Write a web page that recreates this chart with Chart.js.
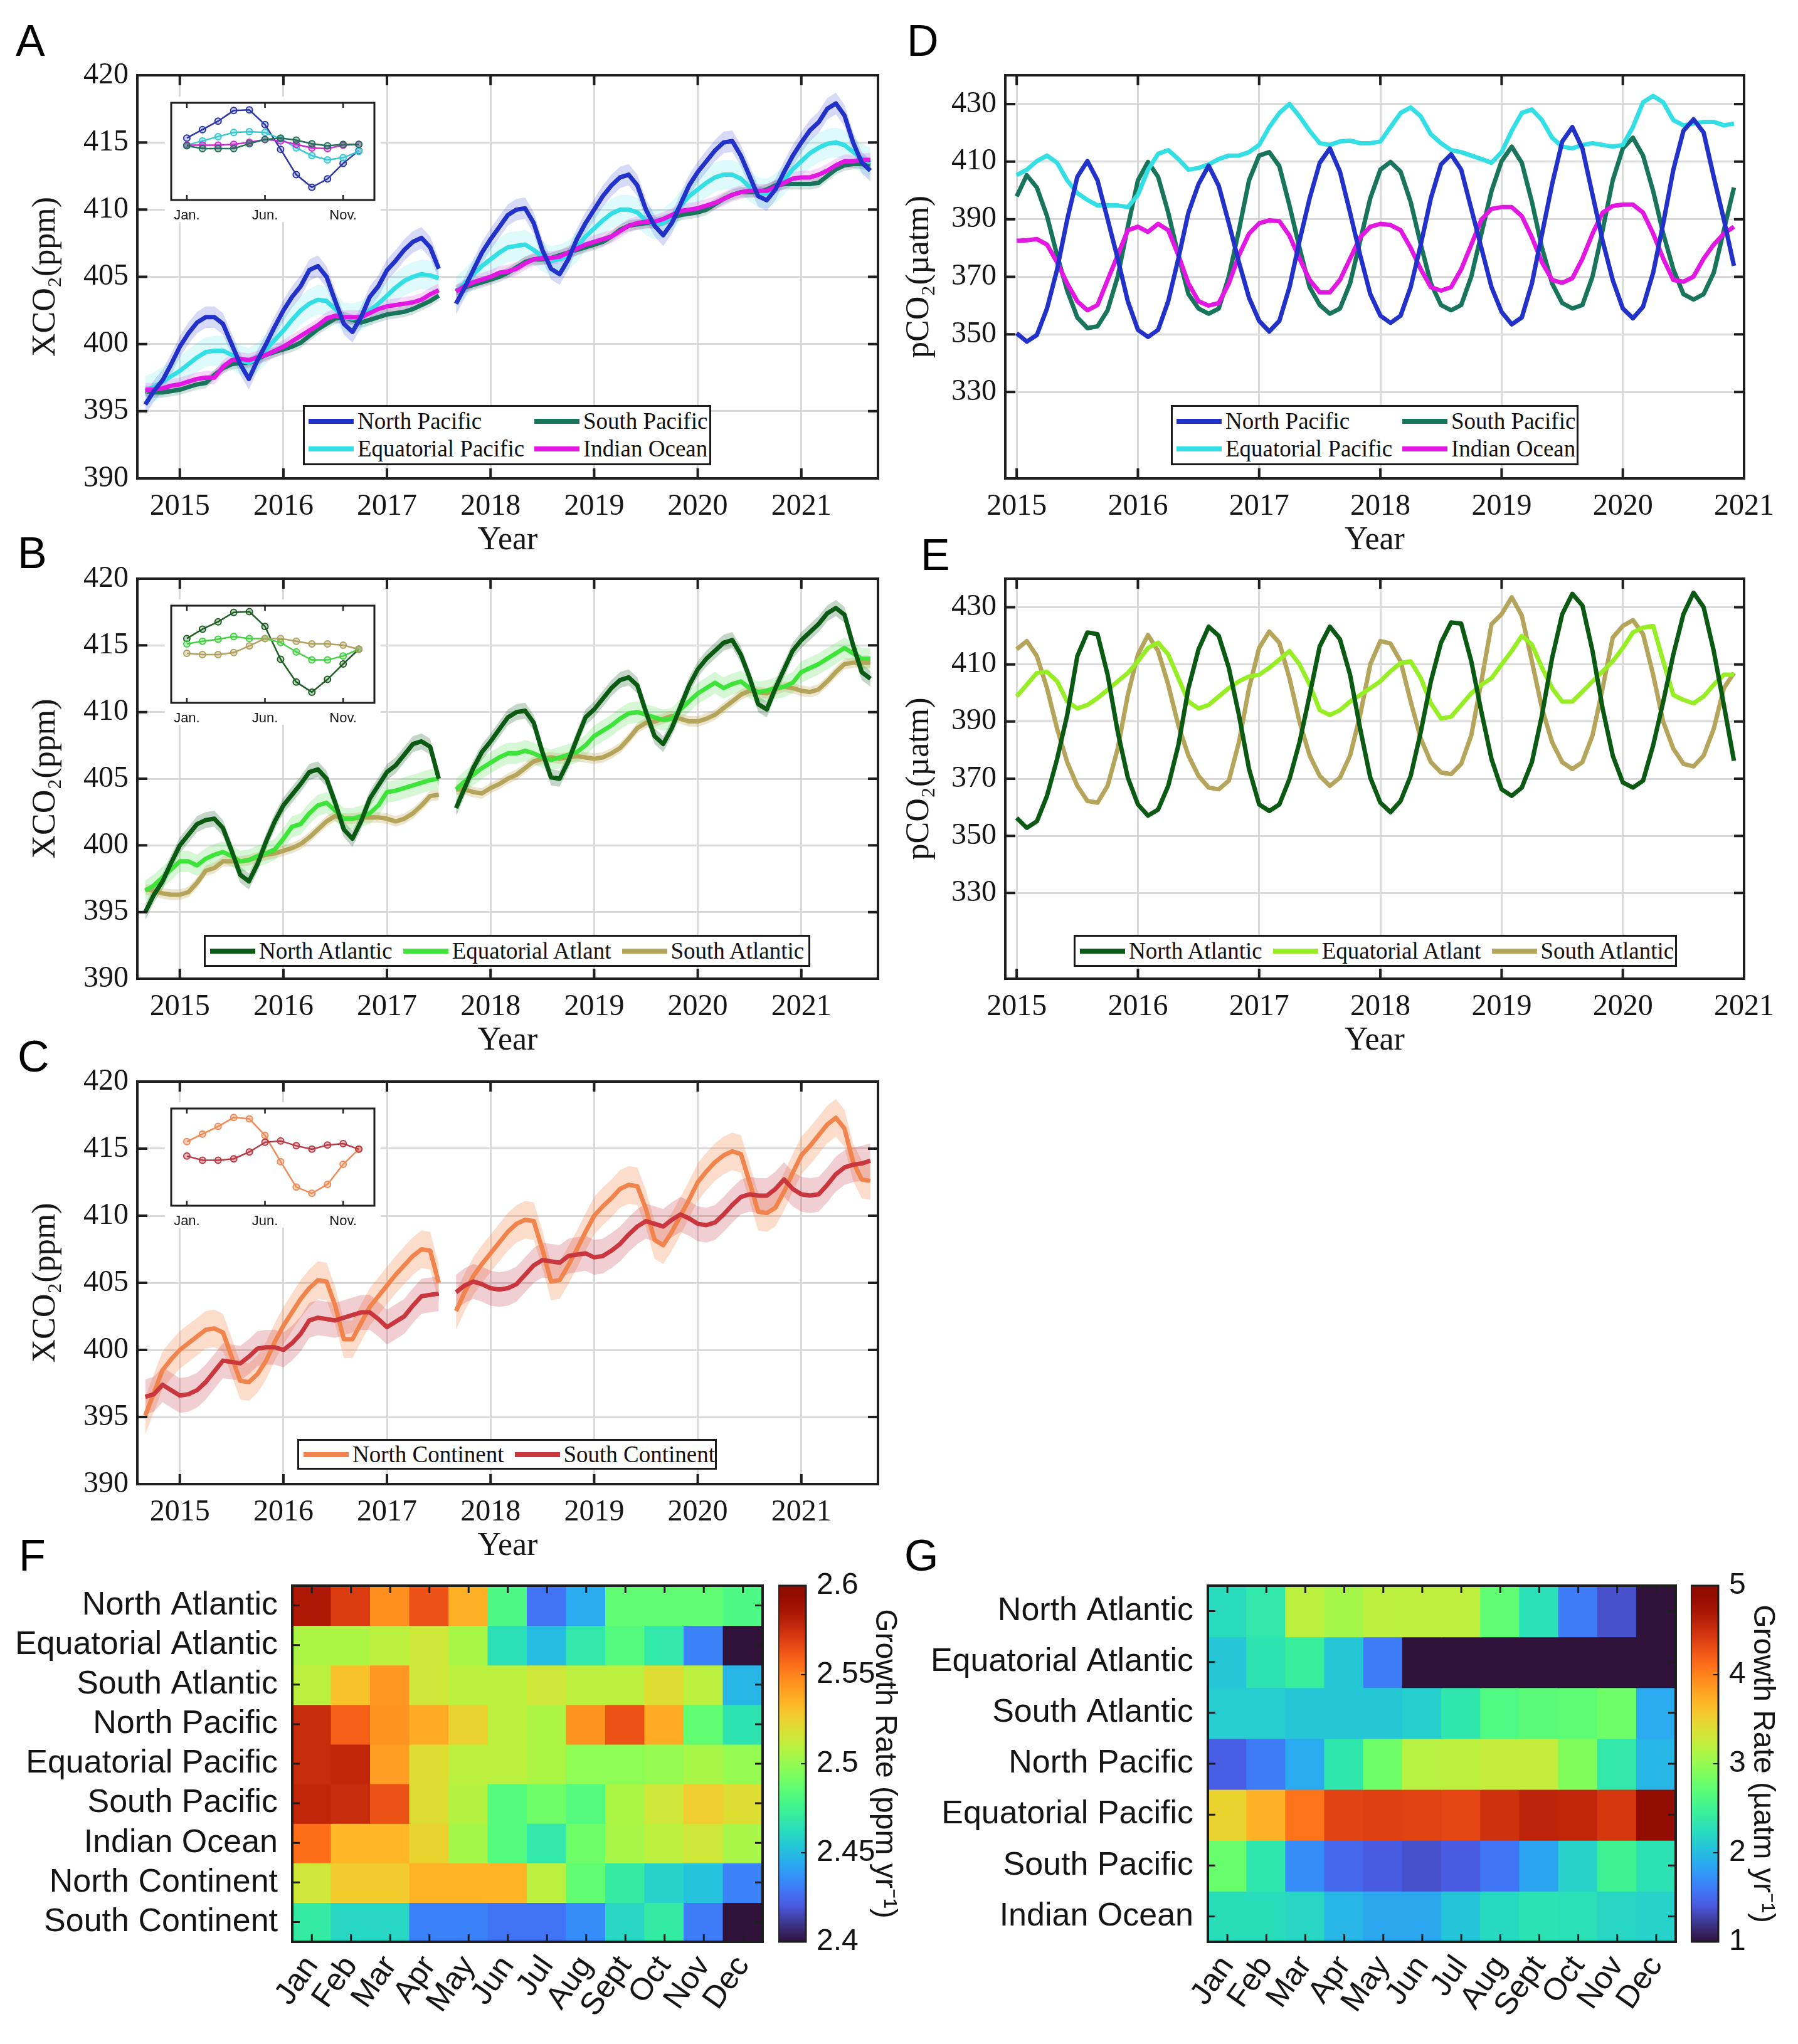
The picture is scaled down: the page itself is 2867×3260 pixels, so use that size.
<!DOCTYPE html>
<html>
<head>
<meta charset="utf-8">
<script src="https://cdn.jsdelivr.net/npm/chart.js@4.4.1/dist/chart.umd.min.js"></script>
<style>
    body { margin: 0; width: 2867px; height: 3260px; position: relative; background: #fff; overflow: hidden; }
    canvas { position: absolute; }
    canvas.inset { background: #fff; }
    .letter { position: absolute; font-family: 'Liberation Sans', Arial, sans-serif; font-size: 70px; line-height: 70px; color: #000; }
    .legend { position: absolute; box-sizing: border-box; border: 3px solid #1a1a1a; background: #fff;
              font-family: 'Liberation Serif', 'Times New Roman', serif; font-size: 37px; color: #111; }
    .legend.grid { display: grid; grid-template-columns: 360px auto; align-content: space-evenly; padding-left: 6px; }
    .legend.row { display: flex; align-items: center; padding-left: 7px; }
    .legend .item { display: flex; align-items: center; white-space: nowrap; line-height: 40px; }
    .legend.row .item { margin-right: 17px; }
    .legend .sw { display: inline-block; width: 72px; height: 8px; margin-right: 6px; }
</style>
</head>
<body>
<script>
// ---- axes ----
const xcoStart = 2014 + 8 / 12;   // Sep 2014
const pco2Start = 2015;           // Jan 2015
const yearTicks = [2015, 2016, 2017, 2018, 2019, 2020, 2021];
const xcoTicks = [390, 395, 400, 405, 410, 415, 420];
const pco2Ticks = [330, 350, 370, 390, 410, 430];
const seasonTickMonths = [1, 6, 11];
const seasonTickLabels = ['Jan.', 'Jun.', 'Nov.'];
const monthNames = ['Jan', 'Feb', 'Mar', 'Apr', 'May', 'Jun', 'Jul', 'Aug', 'Sept', 'Oct', 'Nov', 'Dec'];

// ---- XCO2 (ppm), monthly Sep 2014 - Sep 2021, Aug 2017 missing ----
const xcoNorthPacific = [395.5, 396.5, 397.3, 398.5,
    399.8, 400.8, 401.6, 402.0, 402.0, 401.5, 400.0, 398.5, 397.4, 398.8, 400.0, 401.3,
    402.5, 403.5, 404.3, 405.5, 405.8, 405.0, 403.2, 401.5, 400.9, 402.0, 403.5, 404.3,
    405.5, 406.2, 407.0, 407.6, 407.9, 407.2, 405.6, null, 403.0, 404.2, 405.5, 406.8,
    407.8, 408.7, 409.6, 410.0, 410.1, 409.0, 407.0, 405.6, 405.2, 406.3, 407.8, 409.0,
    410.0, 411.0, 411.8, 412.4, 412.6, 411.8, 410.0, 408.8, 408.1, 409.0, 410.4, 411.8,
    412.8, 413.6, 414.4, 415.0, 415.1, 414.0, 412.5, 411.0, 410.7, 411.5, 412.8, 414.0,
    415.0, 415.9, 416.5, 417.5, 417.9, 417.0, 415.0, 413.5, 412.9];
const xcoEquatorialPacific = [396.5, 396.8, 397.2, 397.6,
    398.0, 398.5, 399.0, 399.4, 399.5, 399.5, 399.2, 398.8, 398.6, 399.0, 399.6, 400.3,
    401.0, 401.8, 402.5, 403.0, 403.3, 403.2, 402.6, 402.0, 401.9, 402.1, 402.5, 403.0,
    403.6, 404.2, 404.7, 405.0, 405.2, 405.1, 404.9, null, 403.9, 404.5, 405.2, 405.8,
    406.3, 406.8, 407.2, 407.3, 407.4, 407.0, 406.5, 406.2, 406.3, 406.6, 407.2, 408.0,
    408.6, 409.2, 409.7, 410.0, 410.0, 409.8, 409.2, 408.9, 409.0, 409.5, 410.3, 411.0,
    411.5, 412.0, 412.4, 412.6, 412.6, 412.3, 411.7, 411.3, 411.2, 411.6, 412.2, 413.0,
    413.6, 414.2, 414.6, 414.9, 415.0, 414.8, 414.3, 413.8, 413.5];
const xcoSouthPacific = [396.5, 396.4, 396.4, 396.5,
    396.6, 396.8, 397.0, 397.1, 397.7, 398.2, 398.5, 398.6, 398.6, 398.9, 399.2, 399.4,
    399.6, 399.8, 400.1, 400.6, 401.1, 401.5, 401.9, 402.0, 401.8, 401.6, 401.8, 402.0,
    402.2, 402.3, 402.4, 402.6, 402.9, 403.2, 403.6, null, 404.0, 404.2, 404.4, 404.6,
    404.8, 405.0, 405.3, 405.7, 406.1, 406.3, 406.3, 406.4, 406.6, 406.8, 407.0, 407.2,
    407.4, 407.6, 408.0, 408.5, 408.8, 408.9, 409.0, 409.0, 409.2, 409.4, 409.6, 409.7,
    409.8, 410.0, 410.4, 410.8, 411.1, 411.3, 411.3, 411.3, 411.5, 411.8, 411.9, 411.9,
    411.9, 411.9, 412.0, 412.5, 413.0, 413.3, 413.4, 413.4, 413.3];
const xcoIndianOcean = [396.6, 396.6, 396.7, 396.9,
    397.0, 397.2, 397.4, 397.5, 397.5, 398.3, 398.8, 398.9, 398.8, 399.0, 399.2, 399.5,
    399.8, 400.2, 400.6, 401.0, 401.4, 401.9, 402.1, 402.0, 402.0, 402.0, 402.3, 402.6,
    402.8, 402.9, 403.0, 403.1, 403.3, 403.7, 404.0, null, 403.9, 404.3, 404.6, 404.8,
    405.0, 405.3, 405.4, 405.6, 406.0, 406.3, 406.4, 406.4, 406.5, 406.8, 407.1, 407.4,
    407.6, 407.8, 408.0, 408.4, 408.8, 409.0, 409.1, 409.1, 409.3, 409.6, 409.9, 410.0,
    410.1, 410.3, 410.5, 410.8, 411.1, 411.3, 411.4, 411.4, 411.4, 411.7, 412.0, 412.3,
    412.4, 412.4, 412.6, 412.9, 413.3, 413.6, 413.6, 413.7, 413.7];
const xcoNorthAtlantic = [395.0, 396.3, 397.3, 398.7,
    400.0, 400.8, 401.6, 401.9, 402.0, 401.3, 399.6, 397.8, 397.3, 398.6, 400.3, 401.8,
    403.0, 403.8, 404.6, 405.5, 405.7, 405.0, 403.2, 401.2, 400.5, 401.8, 403.5, 404.5,
    405.5, 406.0, 406.8, 407.6, 407.8, 407.4, 405.0, null, 402.8, 404.3, 405.8, 407.0,
    407.8, 408.7, 409.6, 410.0, 410.1, 409.2, 407.0, 405.1, 405.0, 406.3, 408.0, 409.6,
    410.2, 411.0, 411.8, 412.4, 412.6, 412.0, 410.0, 408.2, 407.6, 408.8, 410.4, 412.0,
    413.2, 414.0, 414.6, 415.2, 415.4, 414.3, 412.6, 410.6, 410.2, 411.8, 413.2, 414.6,
    415.4, 416.0, 416.6, 417.4, 417.8, 417.3, 415.0, 413.0, 412.5];
const xcoEquatorialAtlantic = [396.6, 397.0, 397.6, 398.2,
    398.8, 398.8, 398.5, 399.0, 399.3, 399.5, 399.2, 398.8, 398.9, 399.2, 399.4, 399.7,
    400.5, 401.4, 401.6, 402.4, 403.0, 403.2, 402.6, 402.0, 402.0, 402.2, 402.4, 403.0,
    404.0, 404.1, 404.3, 404.5, 404.7, 404.9, 405.0, null, 404.2, 404.8, 405.3, 405.8,
    406.2, 406.6, 406.9, 406.9, 407.1, 406.9, 406.6, 406.4, 406.6, 406.8, 407.0, 407.5,
    408.2, 408.6, 409.0, 409.5, 409.9, 410.0, 409.8, 409.6, 409.4, 409.5, 410.2, 410.8,
    411.4, 411.8, 412.2, 411.8, 412.1, 412.3, 411.8, 411.5, 411.6, 411.8, 411.9, 412.2,
    413.0, 413.3, 413.6, 414.0, 414.4, 414.8, 414.4, 414.0, 414.0];
const xcoSouthAtlantic = [396.7, 396.6, 396.4, 396.3,
    396.3, 396.5, 397.2, 398.1, 398.3, 398.8, 398.8, 398.8, 398.9, 399.1, 399.3, 399.4,
    399.6, 399.8, 400.1, 400.6, 401.2, 401.8, 402.2, 402.0, 402.0, 402.1, 402.1, 402.1,
    402.0, 401.8, 402.0, 402.4, 403.0, 403.7, 403.8, null, 404.2, 404.2, 404.0, 403.9,
    404.3, 404.6, 405.0, 405.3, 405.8, 406.3, 406.5, 406.6, 406.5, 406.6, 406.7, 406.6,
    406.5, 406.6, 406.9, 407.3, 408.0, 408.8, 409.2, 409.3, 409.5, 409.7, 409.5, 409.3,
    409.3, 409.5, 409.8, 410.3, 410.8, 411.3, 411.6, 411.5, 411.4, 411.7, 411.9, 411.8,
    411.6, 411.5, 411.7, 412.3, 413.0, 413.6, 413.7, 413.7, 413.7];
const xcoNorthContinent = [395.1, 396.8, 398.5, 399.3,
    400.0, 400.5, 401.0, 401.5, 401.6, 401.3, 399.5, 397.7, 397.6, 398.2, 399.2, 400.6,
    401.8, 402.8, 403.8, 404.6, 405.2, 405.1, 403.3, 400.8, 400.8, 402.0, 403.2, 404.0,
    404.8, 405.6, 406.3, 407.0, 407.5, 407.4, 405.0, null, 402.9, 404.3, 405.5, 406.4,
    407.2, 408.0, 408.8, 409.4, 409.7, 409.6, 407.5, 405.1, 405.2, 406.3, 407.5, 408.8,
    410.0, 410.7, 411.3, 412.0, 412.3, 412.2, 410.5, 408.2, 407.8, 408.8, 410.0, 411.2,
    412.5, 413.3, 414.0, 414.5, 414.8, 414.6, 412.5, 410.3, 410.2, 410.6, 411.8, 413.2,
    414.5, 415.2, 416.0, 416.8, 417.3, 416.5, 414.0, 412.7, 412.6];
const xcoSouthContinent = [396.5, 396.7, 397.4, 397.0,
    396.6, 396.7, 397.0, 397.6, 398.4, 399.2, 399.1, 399.0, 399.5, 400.1, 400.2, 400.2,
    400.0, 400.5, 401.2, 402.2, 402.4, 402.3, 402.2, 402.4, 402.6, 402.8, 402.8, 402.3,
    401.7, 402.1, 402.5, 403.3, 404.0, 404.1, 404.2, null, 404.3, 404.8, 405.1, 404.9,
    404.6, 404.5, 404.6, 404.9, 405.6, 406.3, 406.7, 406.6, 406.5, 407.0, 407.1, 407.2,
    406.9, 407.0, 407.4, 407.9, 408.6, 409.2, 409.6, 409.4, 409.2, 409.7, 410.1, 409.8,
    409.4, 409.3, 409.5, 410.1, 410.8, 411.4, 411.6, 411.5, 411.5, 412.0, 412.7, 412.0,
    411.6, 411.5, 411.6, 412.3, 413.1, 413.6, 413.8, 413.9, 414.1];

// half width of the shaded spread around each XCO2 line (ppm)
const bandNorthPacific = 0.8, bandEquatorialPacific = 1.1, bandSouthPacific = 0.4, bandIndianOcean = 0.5;
const bandNorthAtlantic = 0.6, bandEquatorialAtlantic = 0.8, bandSouthAtlantic = 0.4;
const bandNorthContinent = 1.4, bandSouthContinent = 1.3;

// ---- mean seasonal cycle (insets, ppm anomaly Jan..Dec) ----
const seasonNorthPacific = [0.5, 1.1, 1.7, 2.45, 2.5, 1.45, -0.3, -2.1, -3.0, -2.4, -1.3, -0.4];
const seasonEquatorialPacific = [0, 0.3, 0.6, 0.9, 0.95, 0.9, 0.45, -0.2, -0.75, -1.05, -0.9, -0.45];
const seasonSouthPacific = [-0.05, -0.25, -0.25, -0.25, 0.1, 0.4, 0.5, 0.35, 0.1, -0.05, 0.05, 0.05];
const seasonIndianOcean = [0, 0, 0, 0.05, 0.2, 0.4, 0.3, 0.05, -0.2, -0.25, 0, 0.05];
const seasonNorthAtlantic = [0.8, 1.5, 2.05, 2.75, 2.8, 1.7, -0.75, -2.45, -3.2, -2.25, -1.1, 0];
const seasonEquatorialAtlantic = [0.4, 0.6, 0.75, 0.95, 0.8, 0.8, 0.5, -0.2, -0.8, -0.8, -0.5, 0];
const seasonSouthAtlantic = [-0.3, -0.4, -0.4, -0.25, 0.25, 0.8, 0.8, 0.6, 0.4, 0.4, 0.3, 0];
const seasonNorthContinent = [0.55, 1.1, 1.65, 2.3, 2.2, 1.0, -0.9, -2.75, -3.2, -2.55, -1.1, 0];
const seasonSouthContinent = [-0.5, -0.8, -0.8, -0.7, -0.2, 0.5, 0.6, 0.25, 0, 0.3, 0.4, 0];

// ---- pCO2 (uatm), monthly Jan 2015 - Dec 2020 ----
const pco2NorthPacific = [
    350.4, 347.5, 349.8, 359.0, 372.6, 389.9, 404.7, 410.2, 403.5, 390.0, 376.3, 361.5,
    351.6, 349.1, 351.6, 361.5, 376.3, 392.3, 402.2, 408.6, 401.6, 388.6, 375.0, 362.7,
    354.7, 351.0, 354.7, 366.4, 382.5, 397.3, 409.6, 414.6, 406.5, 392.3, 377.5, 364.0,
    356.5, 354.0, 356.5, 366.4, 381.2, 397.3, 409.0, 412.5, 407.2, 393.6, 380.0, 366.4,
    357.8, 353.5, 355.9, 367.7, 384.9, 402.2, 417.0, 422.0, 414.6, 398.5, 382.5, 368.9,
    359.0, 355.6, 359.6, 371.4, 388.6, 407.2, 420.7, 424.7, 420.1, 404.7, 389.9, 373.8];
const pco2SouthPacific = [
    397.9, 405.3, 401.0, 391.1, 377.5, 365.2, 355.9, 352.2, 352.8, 358.4, 370.1, 387.4,
    403.5, 409.9, 404.7, 392.3, 377.5, 364.0, 359.0, 357.2, 359.0, 370.1, 386.2, 403.5,
    412.1, 413.3, 408.4, 394.8, 380.0, 366.4, 360.2, 357.2, 359.0, 367.7, 382.5, 397.3,
    407.2, 409.9, 406.5, 396.0, 381.2, 367.7, 360.2, 358.4, 360.2, 370.1, 385.0, 399.8,
    410.2, 415.2, 409.6, 396.0, 380.0, 367.7, 360.9, 359.0, 360.2, 370.1, 386.2, 403.5,
    414.6, 418.3, 412.1, 399.8, 385.0, 372.6, 364.0, 362.1, 364.0, 371.4, 386.2, 401.0];
const pco2EquatorialPacific = [
    405.3, 407.2, 410.2, 412.1, 409.6, 403.5, 399.1, 396.7, 394.8, 394.8, 394.8, 394.2,
    398.5, 407.2, 412.7, 414.0, 410.9, 407.2, 407.8, 409.0, 410.9, 412.1, 412.1, 413.3,
    415.8, 422.0, 426.9, 430.0, 425.7, 420.7, 416.4, 415.8, 417.0, 417.3, 416.4, 416.4,
    417.0, 422.0, 426.9, 428.8, 425.7, 419.5, 416.4, 414.0, 413.3, 412.1, 410.9, 409.6,
    413.3, 420.7, 426.9, 428.1, 424.4, 418.3, 415.2, 414.6, 415.8, 416.4, 415.8, 415.2,
    415.8, 422.0, 430.6, 432.8, 430.6, 424.4, 422.6, 423.2, 423.8, 423.8, 422.6, 423.2];
const pco2IndianOcean = [
    382.5, 382.7, 383.1, 381.2, 375.0, 367.7, 361.5, 358.4, 360.2, 368.9, 377.5, 386.2,
    387.4, 385.6, 388.4, 386.2, 377.5, 367.7, 361.5, 360.0, 360.9, 367.7, 377.5, 385.0,
    388.6, 389.6, 389.3, 384.3, 376.3, 368.9, 364.6, 364.6, 368.9, 376.3, 383.7, 387.4,
    388.4, 388.0, 386.2, 380.0, 372.6, 366.4, 365.2, 366.4, 372.6, 381.2, 389.9, 393.6,
    394.2, 394.2, 391.1, 383.7, 375.0, 368.9, 367.9, 369.5, 376.3, 385.0, 392.3, 394.6,
    395.1, 395.1, 392.3, 385.0, 376.3, 368.9, 368.3, 370.1, 376.3, 381.2, 385.0, 387.4];
const pco2NorthAtlantic = [
    356.3, 352.8, 355.1, 364.0, 376.9, 392.3, 412.9, 421.2, 420.6, 406.4, 386.4, 370.4,
    361.0, 357.1, 359.2, 367.5, 381.7, 401.7, 415.3, 423.2, 420.0, 408.8, 392.3, 373.4,
    361.0, 358.7, 361.0, 369.9, 382.8, 399.3, 416.4, 423.2, 418.8, 406.4, 387.5, 370.4,
    361.6, 358.3, 362.2, 371.0, 386.4, 404.1, 417.6, 424.7, 424.3, 411.1, 393.4, 376.9,
    366.3, 364.0, 366.9, 375.8, 392.3, 412.3, 427.6, 434.7, 430.6, 414.7, 394.6, 378.1,
    368.7, 366.9, 369.3, 381.7, 397.0, 413.5, 427.6, 435.1, 430.0, 414.7, 395.8, 376.3];
const pco2EquatorialAtlantic = [
    398.8, 402.9, 407.0, 407.4, 404.1, 397.0, 394.6, 395.8, 398.2, 401.1, 404.1, 407.0,
    411.1, 415.8, 417.6, 413.5, 405.2, 397.0, 394.6, 395.8, 398.8, 401.7, 404.1, 405.8,
    406.4, 408.8, 411.7, 414.7, 410.0, 402.9, 394.0, 392.3, 394.0, 397.0, 399.3, 401.7,
    404.1, 407.6, 410.5, 411.1, 405.2, 396.4, 391.1, 391.7, 395.8, 399.9, 402.9, 405.2,
    410.0, 414.7, 420.0, 417.0, 408.8, 401.7, 397.0, 397.0, 400.5, 404.1, 407.6, 411.1,
    415.8, 421.2, 422.9, 423.5, 411.1, 399.3, 397.6, 396.4, 398.8, 402.9, 406.4, 406.4];
const pco2SouthAtlantic = [
    415.3, 418.2, 412.9, 401.7, 387.5, 375.8, 367.5, 362.2, 361.6, 367.5, 380.5, 399.3,
    413.5, 420.3, 414.7, 402.9, 388.7, 378.1, 371.0, 366.9, 366.3, 369.3, 382.8, 401.7,
    415.8, 421.5, 417.6, 405.2, 389.9, 378.1, 371.0, 367.5, 370.4, 378.1, 392.3, 410.0,
    418.2, 417.3, 411.1, 397.0, 384.0, 375.8, 372.2, 371.6, 375.2, 385.2, 404.1, 424.1,
    427.6, 433.5, 427.1, 411.1, 394.6, 382.8, 375.8, 373.4, 375.8, 385.2, 401.7, 419.4,
    423.5, 425.5, 420.6, 406.4, 389.9, 380.5, 375.2, 374.3, 378.1, 387.5, 401.7, 407.0];

// ---- growth-rate heatmaps ----
const rowsF = ['North Atlantic', 'Equatorial Atlantic', 'South Atlantic', 'North Pacific', 'Equatorial Pacific',
    'South Pacific', 'Indian Ocean', 'North Continent', 'South Continent'];
const growthF = [
    [2.584, 2.57, 2.546, 2.564, 2.536, 2.48, 2.428, 2.444, 2.486, 2.486, 2.486, 2.48],
    [2.506, 2.506, 2.51, 2.515, 2.505, 2.464, 2.45, 2.468, 2.482, 2.468, 2.432, 2.40],
    [2.51, 2.53, 2.544, 2.515, 2.51, 2.51, 2.515, 2.51, 2.51, 2.52, 2.51, 2.448],
    [2.576, 2.56, 2.545, 2.538, 2.524, 2.51, 2.506, 2.545, 2.564, 2.538, 2.486, 2.466],
    [2.576, 2.578, 2.542, 2.52, 2.51, 2.51, 2.506, 2.498, 2.498, 2.50, 2.505, 2.50],
    [2.578, 2.576, 2.564, 2.52, 2.508, 2.482, 2.49, 2.482, 2.506, 2.515, 2.526, 2.52],
    [2.556, 2.534, 2.534, 2.524, 2.504, 2.482, 2.468, 2.49, 2.505, 2.51, 2.515, 2.505],
    [2.515, 2.527, 2.527, 2.535, 2.535, 2.535, 2.51, 2.486, 2.47, 2.458, 2.452, 2.432],
    [2.47, 2.46, 2.46, 2.432, 2.432, 2.428, 2.428, 2.435, 2.46, 2.47, 2.43, 2.40]];
const ticksF = [2.4, 2.45, 2.5, 2.55, 2.6];

const rowsG = ['North Atlantic', 'Equatorial Atlantic', 'South Atlantic', 'North Pacific', 'Equatorial Pacific',
    'South Pacific', 'Indian Ocean'];
const growthG = [
    [2.24, 2.36, 3.2, 3.08, 3.2, 3.22, 3.22, 2.72, 2.28, 1.6, 1.36, 1.0],
    [2.08, 2.32, 2.44, 2.08, 1.6, 1.0, 1.0, 1.0, 1.0, 1.0, 1.0, 1.0],
    [2.12, 2.12, 2.08, 2.08, 2.08, 2.14, 2.34, 2.62, 2.68, 2.7, 2.8, 1.88],
    [1.44, 1.6, 1.88, 2.34, 2.8, 3.18, 3.2, 3.24, 3.24, 2.9, 2.36, 1.96],
    [3.48, 3.72, 4.08, 4.36, 4.38, 4.36, 4.34, 4.48, 4.58, 4.56, 4.44, 4.92],
    [2.76, 2.34, 1.7, 1.48, 1.42, 1.36, 1.42, 1.56, 1.84, 2.16, 2.5, 2.3],
    [2.26, 2.26, 2.2, 1.96, 1.86, 1.86, 2.06, 2.22, 2.3, 2.28, 2.2, 2.16]];
const ticksG = [1, 2, 3, 4, 5];

// ---- styling ----
const serif = "'Liberation Serif', 'Times New Roman', serif";
const sans = "'Liberation Sans', Arial, sans-serif";
const ink = '#151515';
const gridColor = 'rgb(218, 218, 218)';

function turboPoly(t) {
    const r = 34.61 + t * (1172.33 - t * (10793.56 - t * (33300.12 - t * (38394.49 - t * 14825.05))));
    const g = 23.31 + t * (557.33 + t * (1225.33 - t * (3574.96 - t * (1073.77 + t * 707.56))));
    const b = 27.2 + t * (3211.1 - t * (15327.97 - t * (27814 - t * (22569.18 - t * 6838.66))));
    return [r, g, b];
}

// turbo colormap; the low end is pulled toward MATLAB's dark violet
function turbo(t) {
    t = Math.min(1, Math.max(0, t));
    let rgb = turboPoly(t);
    if (t < 0.1) {
        const hi = turboPoly(0.1), lo = [48, 18, 59], k = t / 0.1;
        rgb = lo.map((v, i) => v + (hi[i] - v) * k);
    }
    const c = (v) => Math.round(Math.min(255, Math.max(0, v)));
    return `rgb(${c(rgb[0])}, ${c(rgb[1])}, ${c(rgb[2])})`;
}

// frame + inward tick marks on all four sides (MATLAB "box on")
const frameTicks = {
    id: 'frameTicks',
    afterDraw(chart, args, o) {
        const { ctx, chartArea: a } = chart;
        const xs = chart.scales.x, ys = chart.scales.y;
        ctx.save();
        ctx.strokeStyle = '#1e1e1e';
        ctx.lineWidth = o.width;
        ctx.beginPath();
        if (o.x !== false) {
            xs.ticks.forEach((t, i) => {
                const px = xs.getPixelForTick(i);
                ctx.moveTo(px, a.bottom); ctx.lineTo(px, a.bottom - o.len);
                ctx.moveTo(px, a.top); ctx.lineTo(px, a.top + o.len);
            });
        }
        if (o.y !== false) {
            ys.ticks.forEach((t, i) => {
                const py = ys.getPixelForTick(i);
                ctx.moveTo(a.left, py); ctx.lineTo(a.left + o.len, py);
                ctx.moveTo(a.right, py); ctx.lineTo(a.right - o.len, py);
            });
        }
        ctx.stroke();
        ctx.lineWidth = o.frame;
        ctx.strokeRect(a.left, a.top, a.width, a.height);
        ctx.restore();
    }
};

const colorBar = {
    id: 'colorBar',
    beforeDatasetsDraw(chart) {
        const { ctx, chartArea: a } = chart;
        const ys = chart.scales.y;
        const g = ctx.createLinearGradient(0, a.bottom, 0, a.top);
        for (let i = 0; i <= 40; i++) g.addColorStop(i / 40, turbo(i / 40));
        ctx.save();
        ctx.fillStyle = g;
        ctx.fillRect(a.left, a.top, a.width, a.height);
        ctx.strokeStyle = '#1e1e1e';
        ctx.lineWidth = 2;
        ctx.beginPath();
        ys.ticks.forEach((t, i) => {
            const py = ys.getPixelForTick(i);
            ctx.moveTo(a.right, py); ctx.lineTo(a.right - 8, py);
        });
        ctx.stroke();
        ctx.lineWidth = 3;
        ctx.strokeRect(a.left, a.top, a.width, a.height);
        ctx.restore();
    }
};

function addCanvas(left, top, w, h, cls) {
    const c = document.createElement('canvas');
    c.width = w;
    c.height = h;
    c.style.left = left + 'px';
    c.style.top = top + 'px';
    if (cls) c.className = cls;
    document.body.appendChild(c);
    return c;
}

function toPoints(values, start, shift) {
    return values.map((v, i) => ({ x: start + i / 12, y: v === null ? null : v + shift }));
}

function lineSet(label, values, start, color, order) {
    return {
        label, data: toPoints(values, start, 0), borderColor: color, borderWidth: 7,
        pointRadius: 0, fill: false, spanGaps: false, borderJoinStyle: 'round', order
    };
}

function bandSets(values, start, spread, color) {
    return [
        { data: toPoints(values, start, spread), borderWidth: 0, pointRadius: 0, fill: '+1', backgroundColor: color, order: 10 },
        { data: toPoints(values, start, -spread), borderWidth: 0, pointRadius: 0, fill: false, order: 10 }
    ];
}

function lineChart(c, p) {
    return new Chart(c, {
        type: 'line',
        data: { datasets: p.datasets },
        options: {
            responsive: false,
            animation: false,
            devicePixelRatio: 1,
            layout: { padding: { top: p.padTop, right: p.padRight, bottom: 0, left: 0 } },
            plugins: { legend: { display: false }, tooltip: { enabled: false }, frameTicks: { len: 16, width: 4, frame: 4 } },
            scales: {
                x: {
                    type: 'linear', min: p.xMin, max: p.xMax,
                    afterBuildTicks: (s) => { s.ticks = p.xTicks.map((v) => ({ value: v })); },
                    afterFit: (s) => { s.height = p.xHeight; s.paddingLeft = 0; s.paddingRight = 0; },
                    grid: { color: gridColor, lineWidth: 3, drawTicks: false },
                    border: { display: false },
                    ticks: { color: ink, padding: 17, maxRotation: 0, autoSkip: false, font: { family: serif, size: 48 }, callback: (v) => String(v) },
                    title: { display: true, text: 'Year', color: ink, font: { family: serif, size: 52 }, padding: { top: 0, bottom: 16 } }
                },
                y: {
                    min: p.yMin, max: p.yMax,
                    afterBuildTicks: (s) => { s.ticks = p.yTicks.map((v) => ({ value: v })); },
                    afterFit: (s) => { s.width = p.yWidth; s.paddingTop = 0; s.paddingBottom = 0; },
                    grid: { color: gridColor, lineWidth: 3, drawTicks: false },
                    border: { display: false },
                    ticks: { color: ink, padding: 14, autoSkip: false, font: { family: serif, size: 48 }, callback: (v) => String(v) },
                    title: { display: true, text: p.yTitle, color: ink, font: { family: serif, size: 52 }, padding: { top: p.yTitlePad, bottom: 0 } }
                }
            }
        },
        plugins: [frameTicks]
    });
}

function insetChart(c, series, yMin, yMax) {
    const datasets = series.map((s) => ({
        data: s.values.map((v, i) => ({ x: i + 1, y: v })),
        borderColor: s.color, borderWidth: 2.5, pointRadius: 5, pointBorderWidth: 2,
        pointBorderColor: s.color, pointBackgroundColor: s.fill, fill: false
    }));
    return new Chart(c, {
        type: 'line',
        data: { datasets },
        options: {
            responsive: false, animation: false, devicePixelRatio: 1,
            layout: { padding: { top: 10, right: 10, bottom: 0, left: 10 } },
            plugins: { legend: { display: false }, tooltip: { enabled: false }, frameTicks: { len: 8, width: 2.5, frame: 3, y: false } },
            scales: {
                x: {
                    type: 'linear', min: 0, max: 13,
                    afterBuildTicks: (s) => { s.ticks = seasonTickMonths.map((v) => ({ value: v })); },
                    afterFit: (s) => { s.height = 35; s.paddingLeft = 0; s.paddingRight = 0; },
                    grid: { display: false },
                    border: { display: false },
                    ticks: { color: ink, padding: 4, maxRotation: 0, autoSkip: false, font: { family: sans, size: 22 },
                        callback: (v) => seasonTickLabels[seasonTickMonths.indexOf(v)] }
                },
                y: { display: false, min: yMin, max: yMax }
            }
        },
        plugins: [frameTicks]
    });
}

function heatmap(c, rows, values, vMin, vMax, yWidth) {
    const span = vMax - vMin;
    const datasets = rows.map((name, r) => ({
        label: name,
        data: values[r].map(() => [r + 0.5, r + 1.5]),
        backgroundColor: values[r].map((v) => turbo((v - vMin) / span)),
        borderWidth: 0, inflateAmount: 1, barPercentage: 1, categoryPercentage: 1, grouped: false
    }));
    return new Chart(c, {
        type: 'bar',
        data: { labels: monthNames, datasets },
        options: {
            responsive: false, animation: false, devicePixelRatio: 1,
            layout: { padding: { top: 39, right: 10, bottom: 0, left: 0 } },
            plugins: { legend: { display: false }, tooltip: { enabled: false }, frameTicks: { len: 12, width: 3, frame: 4 } },
            scales: {
                x: {
                    afterFit: (s) => { s.height = 163; s.paddingLeft = 0; s.paddingRight = 0; },
                    grid: { display: false },
                    border: { display: false },
                    ticks: { color: ink, padding: 4, autoSkip: false, minRotation: 55, maxRotation: 55, font: { family: sans, size: 50 } }
                },
                y: {
                    type: 'linear', reverse: true, min: 0.5, max: rows.length + 0.5,
                    afterBuildTicks: (s) => { s.ticks = rows.map((n, i) => ({ value: i + 1 })); },
                    afterFit: (s) => { s.width = yWidth; s.paddingTop = 0; s.paddingBottom = 0; },
                    grid: { display: false },
                    border: { display: false },
                    ticks: { color: ink, padding: 15, autoSkip: false, font: { family: sans, size: 52 }, callback: (v) => rows[v - 1] }
                }
            }
        },
        plugins: [frameTicks]
    });
}

function colorBarChart(c, vMin, vMax, ticks, title, yWidth, titlePad) {
    return new Chart(c, {
        type: 'scatter',
        data: { datasets: [] },
        options: {
            responsive: false, animation: false, devicePixelRatio: 1,
            layout: { padding: { top: 39, right: 0, bottom: 163, left: 0 } },
            plugins: { legend: { display: false }, tooltip: { enabled: false } },
            scales: {
                x: { display: false, min: 0, max: 1 },
                y: {
                    position: 'right', min: vMin, max: vMax,
                    afterBuildTicks: (s) => { s.ticks = ticks.map((v) => ({ value: v })); },
                    afterFit: (s) => { s.width = yWidth; s.paddingTop = 0; s.paddingBottom = 0; },
                    grid: { display: false },
                    border: { display: false },
                    ticks: { color: ink, padding: 9, autoSkip: false, font: { family: sans, size: 48 }, callback: (v) => String(v) },
                    title: { display: true, text: title, color: ink, font: { family: sans, size: 48 }, padding: { top: titlePad, bottom: 0 } }
                }
            }
        },
        plugins: [colorBar]
    });
}

function addLegend(left, top, width, height, items, grid) {
    const box = document.createElement('div');
    box.className = 'legend ' + (grid ? 'grid' : 'row');
    box.style.cssText = `left:${left}px;top:${top}px;width:${width}px;height:${height}px;`;
    items.forEach(([label, color]) => {
        const it = document.createElement('div');
        it.className = 'item';
        it.innerHTML = `<span class="sw" style="background:${color}"></span><span>${label}</span>`;
        box.appendChild(it);
    });
    document.body.appendChild(box);
}

function addLetter(text, left, top) {
    const d = document.createElement('div');
    d.className = 'letter';
    d.textContent = text;
    d.style.left = left + 'px';
    d.style.top = top + 'px';
    document.body.appendChild(d);
}

// colours
const cNP = '#2231c8', cEP = '#33dfe4', cSP = '#18755c', cIO = '#e218e2';
const cNA = '#0b5a14', cEAb = '#3fe43b', cEAe = '#97ee25', cSA = '#b5a55b';
const cNC = '#f0844c', cSC = '#c9363e';

// ---- A ----
lineChart(addCanvas(0, 80, 1440, 830), {
    datasets: [
        ...bandSets(xcoSouthPacific, xcoStart, bandSouthPacific, 'rgba(30, 110, 90, 0.2)'),
        ...bandSets(xcoIndianOcean, xcoStart, bandIndianOcean, 'rgba(220, 60, 220, 0.2)'),
        ...bandSets(xcoEquatorialPacific, xcoStart, bandEquatorialPacific, 'rgba(80, 225, 235, 0.18)'),
        ...bandSets(xcoNorthPacific, xcoStart, bandNorthPacific, 'rgba(50, 70, 210, 0.2)'),
        lineSet('North Pacific', xcoNorthPacific, xcoStart, cNP, 0),
        lineSet('Indian Ocean', xcoIndianOcean, xcoStart, cIO, 1),
        lineSet('Equatorial Pacific', xcoEquatorialPacific, xcoStart, cEP, 2),
        lineSet('South Pacific', xcoSouthPacific, xcoStart, cSP, 3)
    ],
    xMin: 2014.59, xMax: 2021.74, xTicks: yearTicks, xHeight: 147,
    yMin: 390, yMax: 420, yTicks: xcoTicks, yWidth: 219, yTitle: 'XCO\u2082(ppm)', yTitlePad: 42,
    padTop: 40, padRight: 40
});

// ---- B ----
lineChart(addCanvas(0, 883, 1440, 825), {
    datasets: [
        ...bandSets(xcoSouthAtlantic, xcoStart, bandSouthAtlantic, 'rgba(190, 170, 90, 0.3)'),
        ...bandSets(xcoEquatorialAtlantic, xcoStart, bandEquatorialAtlantic, 'rgba(70, 220, 70, 0.22)'),
        ...bandSets(xcoNorthAtlantic, xcoStart, bandNorthAtlantic, 'rgba(20, 90, 35, 0.25)'),
        lineSet('North Atlantic', xcoNorthAtlantic, xcoStart, cNA, 0),
        lineSet('Equatorial Atlant', xcoEquatorialAtlantic, xcoStart, cEAb, 1),
        lineSet('South Atlantic', xcoSouthAtlantic, xcoStart, cSA, 2)
    ],
    xMin: 2014.59, xMax: 2021.74, xTicks: yearTicks, xHeight: 147,
    yMin: 390, yMax: 420, yTicks: xcoTicks, yWidth: 219, yTitle: 'XCO\u2082(ppm)', yTitlePad: 42,
    padTop: 40, padRight: 40
});

// ---- C ----
lineChart(addCanvas(0, 1685, 1440, 829), {
    datasets: [
        ...bandSets(xcoSouthContinent, xcoStart, bandSouthContinent, 'rgba(200, 60, 70, 0.25)'),
        ...bandSets(xcoNorthContinent, xcoStart, bandNorthContinent, 'rgba(245, 140, 80, 0.3)'),
        lineSet('North Continent', xcoNorthContinent, xcoStart, cNC, 1),
        lineSet('South Continent', xcoSouthContinent, xcoStart, cSC, 0)
    ],
    xMin: 2014.59, xMax: 2021.74, xTicks: yearTicks, xHeight: 147,
    yMin: 390, yMax: 420, yTicks: xcoTicks, yWidth: 219, yTitle: 'XCO\u2082(ppm)', yTitlePad: 42,
    padTop: 40, padRight: 40
});

// ---- D ----
lineChart(addCanvas(1430, 80, 1411, 830), {
    datasets: [
        lineSet('North Pacific', pco2NorthPacific, pco2Start, cNP, 0),
        lineSet('Indian Ocean', pco2IndianOcean, pco2Start, cIO, 1),
        lineSet('Equatorial Pacific', pco2EquatorialPacific, pco2Start, cEP, 2),
        lineSet('South Pacific', pco2SouthPacific, pco2Start, cSP, 3)
    ],
    xMin: 2014.906, xMax: 2021, xTicks: yearTicks, xHeight: 147,
    yMin: 300, yMax: 440, yTicks: pco2Ticks, yWidth: 173, yTitle: 'pCO\u2082(\u00b5atm)', yTitlePad: 5,
    padTop: 40, padRight: 60
});

// ---- E ----
lineChart(addCanvas(1430, 883, 1411, 825), {
    datasets: [
        lineSet('North Atlantic', pco2NorthAtlantic, pco2Start, cNA, 0),
        lineSet('Equatorial Atlant', pco2EquatorialAtlantic, pco2Start, cEAe, 1),
        lineSet('South Atlantic', pco2SouthAtlantic, pco2Start, cSA, 2)
    ],
    xMin: 2014.906, xMax: 2021, xTicks: yearTicks, xHeight: 147,
    yMin: 300, yMax: 440, yTicks: pco2Ticks, yWidth: 173, yTitle: 'pCO\u2082(\u00b5atm)', yTitlePad: 5,
    padTop: 40, padRight: 60
});

// ---- insets ----
insetChart(addCanvas(263, 154, 344, 200, 'inset'), [
    { values: seasonSouthPacific, color: '#22705a', fill: 'rgba(34,112,90,0.35)' },
    { values: seasonIndianOcean, color: '#cc2acc', fill: 'rgba(204,42,204,0.35)' },
    { values: seasonEquatorialPacific, color: '#3cc8d0', fill: 'rgba(60,200,208,0.35)' },
    { values: seasonNorthPacific, color: '#2b36a6', fill: 'rgba(43,54,166,0.25)' }
], -3.9, 3.0);
insetChart(addCanvas(263, 956, 344, 200, 'inset'), [
    { values: seasonSouthAtlantic, color: '#b0a060', fill: 'rgba(176,160,96,0.35)' },
    { values: seasonEquatorialAtlantic, color: '#45cf45', fill: 'rgba(69,207,69,0.35)' },
    { values: seasonNorthAtlantic, color: '#1d5e22', fill: 'rgba(29,94,34,0.25)' }
], -4.0, 3.25);
insetChart(addCanvas(263, 1758, 344, 200, 'inset'), [
    { values: seasonSouthContinent, color: '#b83a45', fill: 'rgba(184,58,69,0.35)' },
    { values: seasonNorthContinent, color: '#ee8a55', fill: 'rgba(238,138,85,0.35)' }
], -4.1, 2.95);

// ---- F / G ----
heatmap(addCanvas(0, 2490, 1226, 770), rowsF, growthF, 2.4, 2.6, 466);
colorBarChart(addCanvas(1241, 2490, 210, 770), 2.4, 2.6, ticksF, 'Growth Rate (ppm yr\u207b\u00b9)', 166, 12);
heatmap(addCanvas(1430, 2490, 1252, 770), rowsG, growthG, 1, 5, 496);
colorBarChart(addCanvas(2696, 2490, 171, 770), 1, 5, ticksG, 'Growth Rate (\u00b5atm yr\u207b\u00b9)', 127, 28);

// ---- legends ----
addLegend(483, 646, 651, 96, [['North Pacific', cNP], ['South Pacific', cSP], ['Equatorial Pacific', cEP], ['Indian Ocean', cIO]], true);
addLegend(1867, 646, 650, 96, [['North Pacific', cNP], ['South Pacific', cSP], ['Equatorial Pacific', cEP], ['Indian Ocean', cIO]], true);
addLegend(325, 1491, 967, 51, [['North Atlantic', cNA], ['Equatorial Atlant', cEAb], ['South Atlantic', cSA]], false);
addLegend(1712, 1491, 962, 51, [['North Atlantic', cNA], ['Equatorial Atlant', cEAe], ['South Atlantic', cSA]], false);
addLegend(474, 2295, 669, 49, [['North Continent', cNC], ['South Continent', cSC]], false);

// ---- panel letters ----
addLetter('A', 25, 30);
addLetter('B', 28, 847);
addLetter('C', 28, 1650);
addLetter('D', 1446, 30);
addLetter('E', 1468, 850);
addLetter('F', 30, 2446);
addLetter('G', 1442, 2446);
</script>
</body>
</html>
